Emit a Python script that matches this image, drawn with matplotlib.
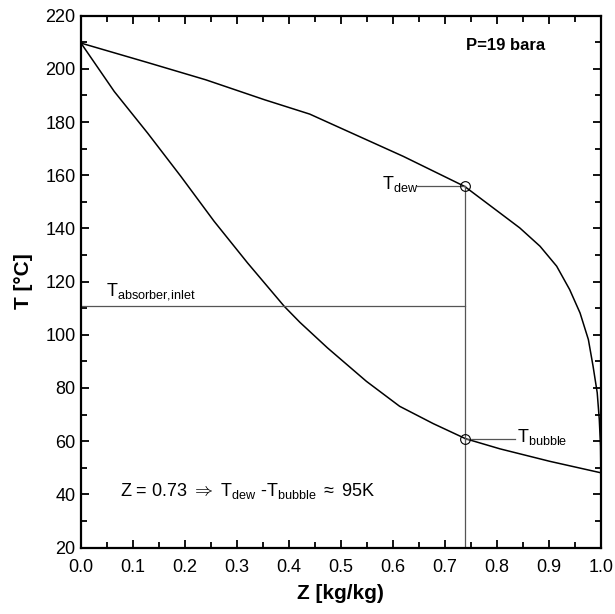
import matplotlib
matplotlib.use("Agg")
import matplotlib.pyplot as plt
from matplotlib.ticker import MultipleLocator

plt.rcParams['font.family'] = ['Liberation Sans', 'DejaVu Sans']
plt.rcParams['mathtext.fontset'] = 'custom'
plt.rcParams['mathtext.rm'] = 'Liberation Sans'
plt.rcParams['mathtext.it'] = 'Liberation Sans:italic'
plt.rcParams['mathtext.bf'] = 'Liberation Sans:bold'

# dew curve
dew_z = [0.0, 0.128, 0.24, 0.353, 0.44, 0.492, 0.62, 0.738, 0.806, 0.844,
         0.883, 0.915, 0.94, 0.96, 0.976, 0.985, 0.993, 0.997, 0.9994, 1.0]
dew_t = [209.7, 202.4, 195.9, 188.4, 183.0, 178.4, 167.1, 155.8, 145.8, 140.2,
         133.3, 125.8, 117.0, 108.2, 98.2, 88.2, 78.2, 68.1, 58.1, 48.1]

# bubble curve
bub_z = [0.0, 0.064, 0.128, 0.192, 0.256, 0.3205, 0.391, 0.421, 0.474,
         0.549, 0.613, 0.6775, 0.740, 0.806, 0.902, 1.0]
bub_t = [209.7, 191.5, 175.9, 159.6, 142.7, 127.0, 110.7, 104.7, 95.1,
         82.5, 73.1, 66.6, 60.9, 57.1, 52.4, 48.1]

z_feed = 0.738
t_dew = 155.8
t_bubble = 60.9
t_absorber = 110.7


def main():
    fig = plt.figure(figsize=(6.15, 6.14), dpi=100)
    ax = fig.add_axes([0.1317, 0.1083, 0.8453, 0.8661])

    ax.plot(dew_z, dew_t, color='black', lw=1.1, solid_joinstyle='round')
    ax.plot(bub_z, bub_t, color='black', lw=1.1, solid_joinstyle='round')

    # helper lines
    grey = '#555555'
    ax.plot([z_feed, z_feed], [20, t_dew], color=grey, lw=0.9)
    ax.plot([0, z_feed], [t_absorber, t_absorber], color=grey, lw=0.9)
    ax.plot([0.647, z_feed], [t_dew, t_dew], color=grey, lw=0.9)
    ax.plot([z_feed, 0.835], [t_bubble, t_bubble], color=grey, lw=0.9)
    ax.plot([z_feed, z_feed], [t_dew, t_bubble], 'o', mfc='none',
            mec='black', ms=7, mew=0.8)

    ax.text(0.648, t_dew + 1, r'T$_{\mathrm{dew}}$', fontsize=13,
            ha='right', va='center')
    ax.text(0.838, t_bubble + 0.8, r'T$_{\mathrm{bubble}}$', fontsize=13,
            ha='left', va='center')
    ax.text(0.049, t_absorber + 1.5, r'T$_{\mathrm{absorber{,}inlet}}$',
            fontsize=13, ha='left', va='bottom')
    ax.text(0.075, 41.2,
            r'Z = 0.73 $\Rightarrow$ T$_{\mathrm{dew}}$ -T$_{\mathrm{bubble}}$'
            r' $\approx$ 95K', fontsize=13, ha='left', va='center')
    ax.text(0.74, 208.8, 'P=19 bara', fontsize=12, fontweight='bold',
            ha='left', va='center')

    ax.set_xlim(0, 1)
    ax.set_ylim(20, 220)
    ax.xaxis.set_major_locator(MultipleLocator(0.1))
    ax.xaxis.set_minor_locator(MultipleLocator(0.05))
    ax.yaxis.set_major_locator(MultipleLocator(20))
    ax.yaxis.set_minor_locator(MultipleLocator(10))
    ax.xaxis.set_major_formatter(plt.FormatStrFormatter('%.1f'))
    ax.tick_params(which='both', direction='in', top=True, right=True,
                   width=1.3, labelsize=13)
    ax.tick_params(axis='x', pad=8)
    ax.tick_params(axis='y', pad=4)
    ax.tick_params(which='major', length=6)
    ax.tick_params(which='minor', length=4)
    for s in ax.spines.values():
        s.set_linewidth(1.6)

    ax.set_xlabel('Z [kg/kg)', fontsize=15, fontweight='bold', labelpad=6)
    ax.set_ylabel('T [°C]', fontsize=15, fontweight='bold', labelpad=9)

    fig.savefig('out.png', dpi=100)


if __name__ == "__main__":
    main()
